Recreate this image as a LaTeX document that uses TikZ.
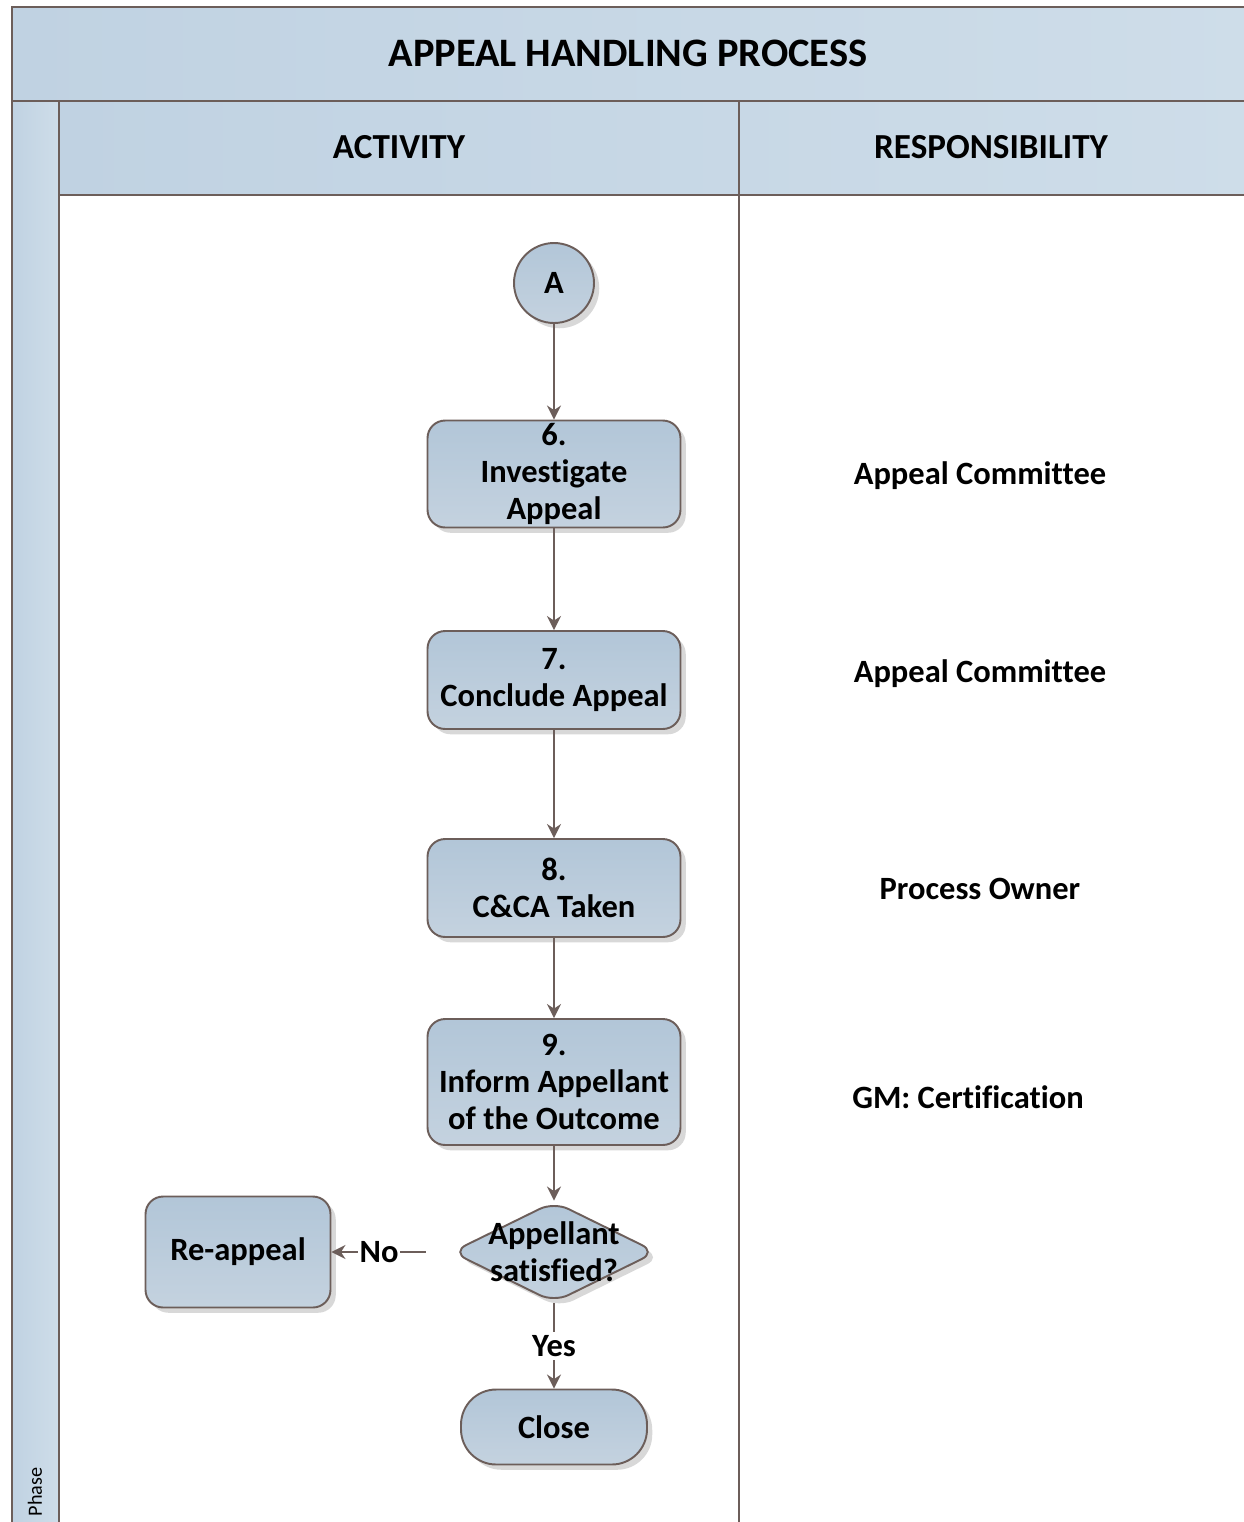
\documentclass[tikz,border=0pt]{standalone}
\usepackage{fontspec}
\setmainfont{Carlito}[Ligatures=NoCommon]
\usetikzlibrary{shapes.geometric,arrows.meta,shadows,positioning}
\usepackage{xcolor}

\definecolor{edge}{RGB}{108,94,90}
\definecolor{hdrdark}{RGB}{192,210,226}
\definecolor{hdrlight}{RGB}{206,221,233}
\definecolor{boxtop}{RGB}{178,198,216}
\definecolor{boxbot}{RGB}{196,210,223}

\begin{document}
\begin{tikzpicture}[x=0.02cm,y=-0.02cm]
      \tikzstyle{activity} = [rectangle, rounded corners=10pt, draw=edge, line width=1.1pt, top color=boxtop, bottom color=boxbot, drop shadow={shadow xshift=3pt, shadow yshift=-3pt, fill=black!30}, minimum width=5.06cm, align=center, inner sep=1pt, font=\bfseries\fontsize{18.5}{21}\selectfont]
      \tikzstyle{connector} = [circle, draw=edge, line width=1.1pt, top color=boxtop, bottom color=boxbot, drop shadow={shadow xshift=3pt, shadow yshift=-3pt, fill=black!30}, minimum size=1.6cm, inner sep=0pt, font=\bfseries\fontsize{18.5}{21}\selectfont]
      \tikzstyle{flow} = [draw=edge, line width=0.9pt, -{Stealth[length=8pt,width=8pt]}]
      \tikzstyle{resp} = [font=\bfseries\fontsize{18.5}{21}\selectfont]
      \tikzstyle{hdr} = [font=\bfseries\fontsize{20}{24}\selectfont]

      \useasboundingbox (0,0) rectangle (1244,1522);
      \clip (0,0) rectangle (1244,1522);

      % swimlane frame
      \shade[left color=hdrdark, right color=hdrlight] (12,7) rectangle (1260,101);
      \shade[left color=hdrdark, right color=hdrlight] (59,101) rectangle (1260,195);
      \shade[left color=hdrdark, right color=hdrlight] (12,101) rectangle (59,1540);
      \draw[edge, line width=1.1pt] (12,1540) -- (12,7) -- (1260,7);
      \draw[edge, line width=1.1pt] (12,101) -- (1260,101);
      \draw[edge, line width=1.1pt] (59,195) -- (1260,195);
      \draw[edge, line width=1.1pt] (59,101) -- (59,1540);
      \draw[edge, line width=1.1pt] (739,101) -- (739,1540);

      \node[hdr, font=\bfseries\fontsize{23}{27}\selectfont] (title) at (628,53) {APPEAL HANDLING PROCESS};
      \node[hdr] (activity) at (399,147) {ACTIVITY};
      \node[hdr] (responsibility) at (991,147) {RESPONSIBILITY};
      \node[rotate=90, font=\fontsize{11.5}{14}\selectfont] (phase) at (35,1492) {Phase};

      % activities
      \node[connector] (A) at (554,283) {A};
      \node[activity, minimum height=2.14cm] (s6) at (554,474) {6.\\Investigate\\Appeal};
      \node[activity, minimum height=1.96cm] (s7) at (554,680) {7.\\Conclude Appeal};
      \node[activity, minimum height=1.96cm] (s8) at (554,888) {8.\\C\&CA Taken};
      \node[activity, minimum height=2.52cm] (s9) at (554,1082) {9.\\Inform Appellant\\of the Outcome};
      \node[diamond, rounded corners=9pt, draw=edge, line width=1.1pt, top color=boxtop, bottom color=boxbot, drop shadow={shadow xshift=3pt, shadow yshift=-3pt, fill=black!30}, minimum width=4.1cm, minimum height=2.02cm, inner sep=0pt,
        label={[align=center, font=\bfseries\fontsize{18.5}{21}\selectfont]center:Appellant\\satisfied?}] (dec) at (554,1252) {};
      \node[activity, minimum width=3.7cm, minimum height=2.22cm] (reappeal) at (238,1252) {Re-appeal};
      \node[activity, rounded corners=20pt, minimum width=3.72cm, minimum height=1.5cm] (close) at (554,1427) {Close};

      \draw[flow] (A) -- (s6);
      \draw[flow] (s6) -- (s7);
      \draw[flow] (s7) -- (s8);
      \draw[flow] (s8) -- (s9);
      \draw[flow] (s9) -- (dec);
      \draw[flow, shorten <=0.5cm] (dec.west) -- node[pos=0.6, fill=white, inner sep=1pt, resp] {No} (reappeal.east);
      \draw[flow] (dec.south) -- node[fill=white, inner sep=2pt, resp] {Yes} (close.north);

      % responsibility
      \node[resp] (r6) at (980,476) {Appeal Committee};
      \node[resp] (r7) at (980,674) {Appeal Committee};
      \node[resp] (r8) at (980,889) {Process Owner};
      \node[resp] (r9) at (968,1097) {GM: Certification};
    \end{tikzpicture}
\end{document}
